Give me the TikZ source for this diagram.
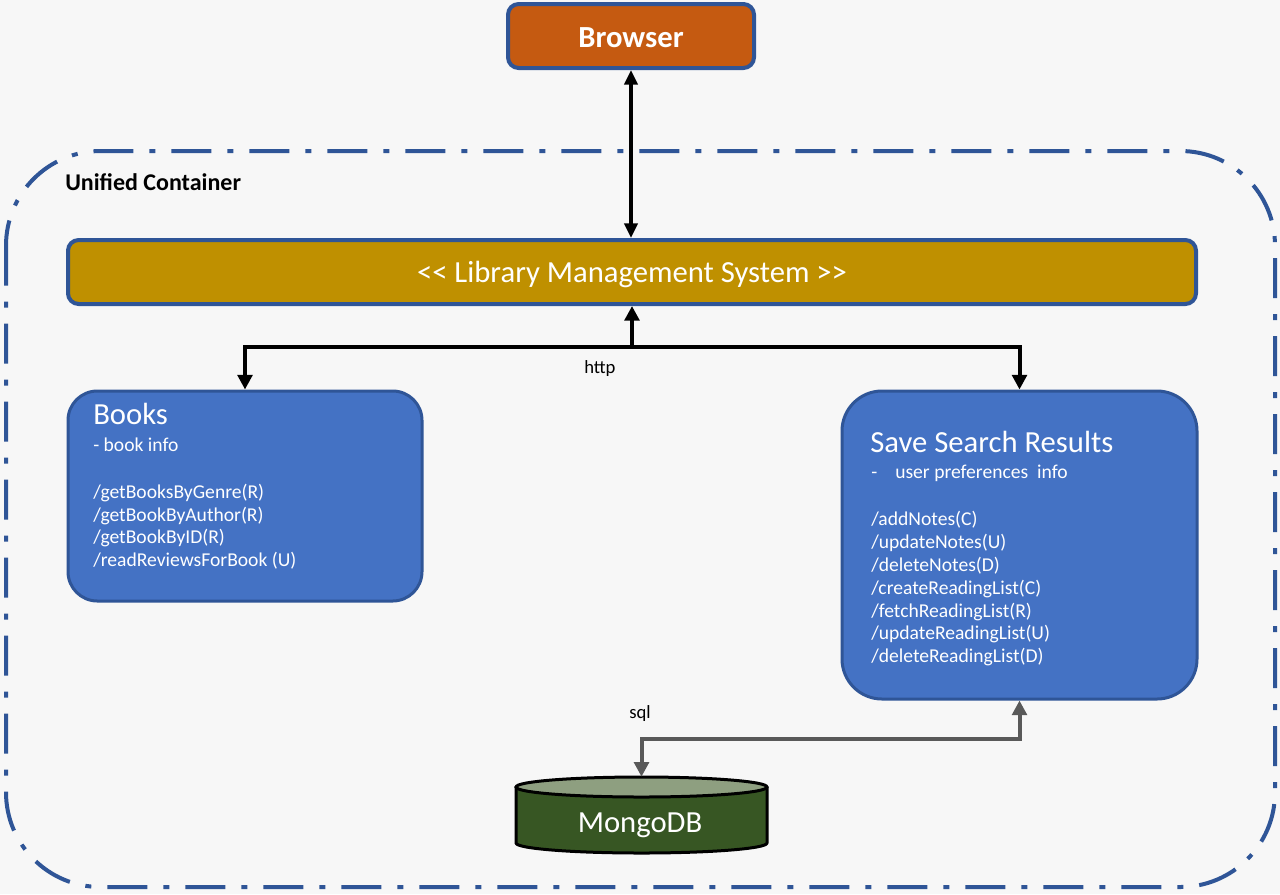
\documentclass[tikz,border=0pt]{standalone}
\usepackage{fontspec}
\setmainfont{Carlito}
\usetikzlibrary{arrows.meta}
\definecolor{bg}{HTML}{F7F7F7}
\definecolor{edgeblue}{HTML}{2F5597}
\definecolor{boxblue}{HTML}{4472C4}
\definecolor{gold}{HTML}{BF9000}
\definecolor{rust}{HTML}{C55A11}
\definecolor{mgreen}{HTML}{375623}
\definecolor{mtop}{HTML}{8E9F80}
\definecolor{cgray}{HTML}{595959}
\begin{document}
\begin{tikzpicture}[x=0.75pt,y=-0.75pt,
  panel/.style={draw=edgeblue, fill=boxblue, line width=2.25pt, inner sep=0pt},
  bar/.style={draw=edgeblue, line width=3pt, inner sep=0pt, rounded corners=8pt},
  wtxt/.style={text=white, inner sep=0pt, anchor=base west},
  titletxt/.style={wtxt, font=\fontsize{23}{27}\selectfont},
  itemtxt/.style={wtxt, font=\fontsize{14.7}{17}\selectfont},
  lbl/.style={inner sep=0pt, anchor=base west, font=\fontsize{14}{17}\selectfont},
  harrow/.style={line width=3pt, line join=miter, -{Triangle[length=11pt,width=11pt]}},
  garrow/.style={draw=cgray, line width=3pt, line join=miter,
    {Triangle[length=11pt,width=11pt]}-{Triangle[length=11pt,width=11pt]}},
]
\useasboundingbox (0,0) rectangle (1280,894);
\fill[bg] (0,0) rectangle (1280,894);

% container
\draw[edgeblue, line width=3pt, rounded corners=71pt,
  dash pattern=on 30pt off 12pt on 4.5pt off 12pt]
  (6,151) rectangle (1275,887);
\node[inner sep=0pt, anchor=base west, font=\bfseries\fontsize{18}{21}\selectfont]
  (ucl) at (65,190) {Unified Container};

% browser
\node[bar, fill=rust, minimum width=184.5pt, minimum height=48pt]
  (browser) at (631,36) {};
\node[text=white, inner sep=0pt, anchor=base, font=\bfseries\fontsize{23}{27}\selectfont]
  (browsertxt) at (631,47) {Browser};

% LMS
\node[bar, fill=gold, minimum width=846pt, minimum height=48pt]
  (lms) at (632,272) {};
\node[text=white, inner sep=0pt, anchor=base, font=\fontsize{23}{27}\selectfont]
  (lmstxt) at (632,282) {<\kern0pt< Library Management System >\kern0pt>};

% Books
\node[panel, rounded corners=22pt, minimum width=265.5pt, minimum height=157.5pt]
  (books) at (245,496) {};
\node[titletxt] (bt) at (93,424) {Books};
\node[itemtxt] (bs) at (93,451) {- book info};
\node[itemtxt] (b1) at (93,498) {/getBooksByGenre(R)};
\node[itemtxt] (b2) at (93,521) {/getBookByAuthor(R)};
\node[itemtxt] (b3) at (93,543) {/getBookByID(R)};
\node[itemtxt] (b4) at (93,566) {/readReviewsForBook (U)};

% Save Search Results
\node[panel, rounded corners=30pt, minimum width=266.25pt, minimum height=231pt]
  (save) at (1019.5,545) {};
\node[titletxt] (st) at (870,452) {Save Search Results};
\node[itemtxt] (ss) at (871,478) {-\hspace{13.5pt}user preferences\ \ info};
\node[itemtxt] (s1) at (871,525) {/addNotes(C)};
\node[itemtxt] (s2) at (871,548) {/updateNotes(U)};
\node[itemtxt] (s3) at (871,571) {/deleteNotes(D)};
\node[itemtxt] (s4) at (871,594) {/createReadingList(C)};
\node[itemtxt] (s5) at (871,617) {/fetchReadingList(R)};
\node[itemtxt] (s6) at (871,639) {/updateReadingList(U)};
\node[itemtxt] (s7) at (871,662) {/deleteReadingList(D)};

% MongoDB cylinder
\node[inner sep=0pt, minimum width=188.25pt, minimum height=57pt]
  (mongo) at (641.5,815) {};
\draw[fill=mgreen, line width=2.25pt, line join=round]
  (516,787) -- (516,843) arc[start angle=180, end angle=360, x radius=94.125pt, y radius=7.5pt]
  -- (767,787);
\draw[fill=mtop, line width=2.25pt] (641.5,787) ellipse[x radius=94.125pt, y radius=7.5pt];
\node[text=white, inner sep=0pt, anchor=base, font=\fontsize{23}{27}\selectfont]
  (mongotxt) at (640,832) {MongoDB};

% connectors
\draw[line width=2.5pt, {Triangle[length=11pt,width=10pt]}-{Triangle[length=11pt,width=10pt]}]
  (browser.south) -- (browser.south |- lms.north);
\coordinate (hj) at (632,347);
\draw[harrow] (hj) -- (lms.south);
\draw[harrow] (hj) -| (books.north);
\draw[harrow] (hj) -| (save.north);
\node[lbl] (http) at (584,373) {http};

\draw[garrow] (mongo.north) -- ++(0,-38) -| (save.south);
\node[lbl] (sql) at (629,718) {sql};
\end{tikzpicture}
\end{document}
